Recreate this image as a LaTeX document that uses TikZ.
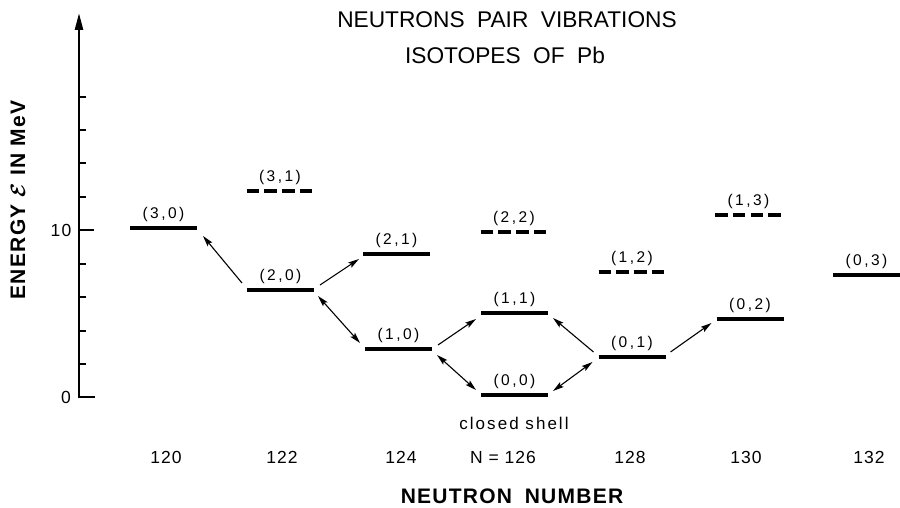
\documentclass[tikz,border=0pt]{standalone}
\usepackage{fontspec}
\setmainfont{Liberation Sans}
\newfontfamily\levfont[LetterSpace=16]{Liberation Sans}
\newfontfamily\numfont[LetterSpace=6]{Liberation Sans}
\newfontfamily\csfont[LetterSpace=12]{Liberation Sans}
\newfontfamily\capfont[LetterSpace=6]{Liberation Sans}
\usetikzlibrary{arrows.meta,calc}
\newcommand\lvl[5]{%
  \node[lev] (#1) at (#2,#3) {};
  \draw[#5] (#1.west) -- (#1.east);
  \node[lab] (#1l) at (#2,#3-13.5) {#4};
}
\begin{document}
\begin{tikzpicture}[x=1pt,y=-1pt,
  lev/.style={minimum width=67pt, minimum height=0pt, inner sep=0pt, outer sep=0pt},
  bar/.style={line width=4pt},
  dbar/.style={line width=3.5pt, dash pattern=on 12.5pt off 5.3pt},
  lab/.style={font=\fontsize{15.5}{17}\levfont, inner sep=0pt},
  num/.style={font=\fontsize{17.5}{19}\numfont, inner sep=0pt},
  csl/.style={font=\fontsize{17}{19}\csfont, inner sep=0pt},
  ttl/.style={font=\fontsize{22.7}{25}\selectfont, inner sep=0pt},
  axlab/.style={font=\fontsize{21}{24}\capfont\bfseries, inner sep=0pt},
  tr/.style={line width=1.1pt, -{Stealth[length=11pt,width=6pt,inset=2pt]}},
  trr/.style={line width=1.1pt, {Stealth[length=11pt,width=6pt,inset=2pt]}-{Stealth[length=11pt,width=6pt,inset=2pt]}},
  axis/.style={line width=2.5pt, -{Triangle[length=17pt,width=8pt]}},
  tick/.style={line width=1.2pt}
]
\useasboundingbox (0,0) rectangle (900,508);

% axis
\coordinate (ax0) at (79,397);
\coordinate (axb) at (95,397);
\coordinate (axt) at (79,13);
\draw[axis] (axb) -- (ax0) -- (axt);
\foreach \yy in {364,331,297,264,197,163,130,97} {\draw[tick] (79,\yy) -- (86,\yy);}
\coordinate (t10) at (79,230);
\coordinate (t10e) at (94,230);
\draw[line width=2pt] (t10) -- (t10e);
\node[num] (y10) at (61,230) {10};
\node[num] (y0) at (66,397) {0};

% titles
\node[ttl] (title1) at (507,20) {NEUTRONS\hspace{0.55em}PAIR\hspace{0.55em}VIBRATIONS};
\node[ttl] (title2) at (505,55) {ISOTOPES\hspace{0.55em}OF\hspace{0.55em}Pb};
\node[axlab, rotate=90] (ylab) at (18,200) {ENERGY {\boldmath$\mathcal{E}$} IN MeV};
\node[axlab] (xlab) at (512,496) {NEUTRON\hspace{0.6em}NUMBER};

% levels
\lvl{L30}{163.5}{228}{(3,0)}{bar}
\lvl{L31}{280}{191}{(3,1)}{dbar}
\lvl{L20}{280.5}{290}{(2,0)}{bar}
\lvl{L21}{396.5}{254}{(2,1)}{bar}
\lvl{L10}{398.5}{349}{(1,0)}{bar}
\lvl{L22}{514}{232}{(2,2)}{dbar}
\lvl{L11}{514.5}{313}{(1,1)}{bar}
\lvl{L00}{514.5}{395}{(0,0)}{bar}
\lvl{L12}{632}{272}{(1,2)}{dbar}
\lvl{L01}{632}{357}{(0,1)}{bar}
\lvl{L13}{748.5}{215}{(1,3)}{dbar}
\lvl{L02}{750}{319}{(0,2)}{bar}
\lvl{L03}{866.5}{275}{(0,3)}{bar}

% transitions
\draw[tr] ($(L20.west)+(-5,-7)$) -- ($(L30.east)+(6,8)$);
\draw[tr] ($(L20.east)+(6,-5)$) -- ($(L21.west)+(-4,5)$);
\draw[trr] ($(L20.east)+(4,6)$) -- ($(L10.west)+(-5,-6)$);
\draw[tr] ($(L10.east)+(6,-4)$) -- ($(L11.west)+(-5,6)$);
\draw[trr] ($(L10.east)+(5,6)$) -- ($(L00.west)+(-5,-5)$);
\draw[tr] ($(L01.west)+(-5,-5)$) -- ($(L11.east)+(5,5)$);
\draw[trr] ($(L01.west)+(-6,5)$) -- ($(L00.east)+(5,-4)$);
\draw[tr] ($(L01.east)+(5,-5)$) -- ($(L02.west)+(-5,4)$);

% bottom labels
\node[csl] (cs) at (514,423) {closed shell};
\node[num] (n120) at (166,457) {120};
\node[num] (n122) at (282,457) {122};
\node[num] (n124) at (401,457) {124};
\node[num] (n126) at (503,457) {N = 126};
\node[num] (n128) at (630,457) {128};
\node[num] (n130) at (746,457) {130};
\node[num] (n132) at (869,457) {132};
\end{tikzpicture}
\end{document}
